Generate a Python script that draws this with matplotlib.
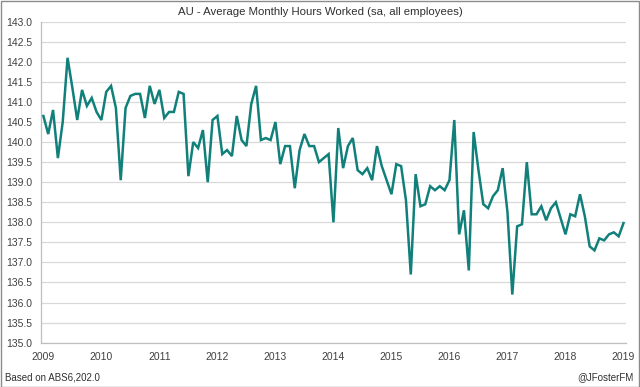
import matplotlib
matplotlib.use("Agg")
import matplotlib.pyplot as plt
import numpy as np

# monthly values, Jan 2009 .. Jan 2019
hours_2009 = [140.65, 140.2, 140.8, 139.6, 140.5, 142.1, 141.35, 140.55, 141.3, 140.9, 141.1, 140.75]
hours_2010 = [140.55, 141.25, 141.4, 140.85, 139.05, 140.85, 141.15, 141.2, 141.2, 140.6, 141.4, 140.95]
hours_2011 = [141.3, 140.6, 140.75, 140.75, 141.25, 141.2, 139.15, 140.0, 139.85, 140.3, 139.0, 140.55]
hours_2012 = [140.65, 139.7, 139.8, 139.65, 140.65, 140.05, 139.9, 140.95, 141.4, 140.05, 140.1, 140.05]
hours_2013 = [140.5, 139.45, 139.9, 139.9, 138.85, 139.8, 140.2, 139.9, 139.9, 139.5, 139.6, 139.7]
hours_2014 = [138.0, 140.35, 139.35, 139.9, 140.1, 139.3, 139.2, 139.35, 139.05, 139.9, 139.4, 139.05]
hours_2015 = [138.7, 139.45, 139.4, 138.55, 136.7, 139.2, 138.4, 138.45, 138.9, 138.8, 138.9, 138.8]
hours_2016 = [139.05, 140.55, 137.7, 138.3, 136.8, 140.25, 139.3, 138.45, 138.35, 138.65, 138.8, 139.35]
hours_2017 = [138.25, 136.2, 137.9, 137.95, 139.5, 138.2, 138.2, 138.4, 138.05, 138.35, 138.5, 138.1]
hours_2018 = [137.7, 138.2, 138.15, 138.7, 138.15, 137.4, 137.3, 137.6, 137.55, 137.7, 137.75, 137.65]
hours_2019 = [137.98]

years = [str(y) for y in range(2009, 2020)]

hours = (hours_2009 + hours_2010 + hours_2011 + hours_2012 + hours_2013 + hours_2014
         + hours_2015 + hours_2016 + hours_2017 + hours_2018 + hours_2019)
months = np.arange(len(hours))

plt.rcParams['font.family'] = ['Liberation Sans', 'DejaVu Sans']

fig = plt.figure(figsize=(6.4, 3.87), dpi=100)
ax = fig.add_axes([0.064, 0.1145, 0.914, 0.8295])

ax.plot(months, hours, color="#12807a", linewidth=1.8, solid_joinstyle="miter", zorder=3)

ax.set_xlim(-0.5, 120.5)
ax.set_ylim(135.0, 143.0)
ax.set_yticks(np.arange(135.0, 143.01, 0.5))
ax.set_yticklabels([f"{v:.1f}" for v in np.arange(135.0, 143.01, 0.5)], fontsize=7.5, color="#404040")
ax.set_xticks(np.arange(0, 121, 12))
ax.set_xticklabels(years, fontsize=7.5, color="#404040")
ax.tick_params(axis="both", length=0, pad=6)
ax.tick_params(axis="x", pad=7)

ax.grid(True, axis="y", color="#d9d9d9", linewidth=0.9, zorder=0)
for side in ["top", "right"]:
    ax.spines[side].set_visible(False)
for side in ["left", "bottom"]:
    ax.spines[side].set_color("#bfbfbf")
    ax.spines[side].set_linewidth(0.9)

fig.text(0.50, 0.968, "AU - Average Monthly Hours Worked (sa, all employees)",
         ha="center", va="center", fontsize=8.2, color="#303030")
fig.text(0.008, 0.025, "Based on ABS6,202.0", ha="left", va="center", fontsize=7, color="#303030")
fig.text(0.99, 0.025, "@JFosterFM", ha="right", va="center", fontsize=7, color="#303030")

# chart border
fig.patches.append(plt.Rectangle((0.001, 0.001), 0.998, 0.997, transform=fig.transFigure,
                                 fill=False, edgecolor="#8c8c8c", linewidth=1.0))

fig.savefig("out.png", dpi=100)
